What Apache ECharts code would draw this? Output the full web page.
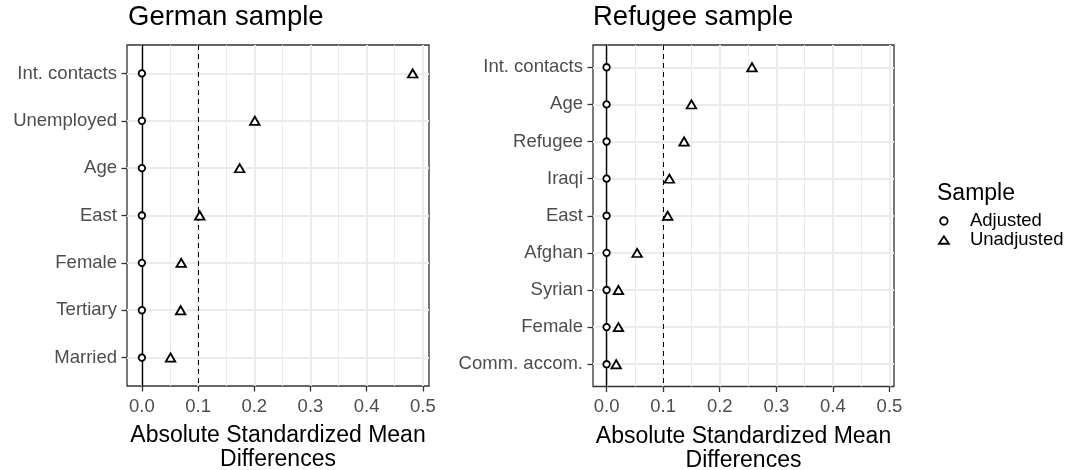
<!DOCTYPE html>
<html>
<head>
<meta charset="utf-8">
<script src="https://cdn.jsdelivr.net/npm/echarts@6/dist/echarts.min.js"></script>
<style>
  html, body { margin: 0; padding: 0; background: #ffffff; }
  #chart { width: 1067px; height: 470px; }
</style>
</head>
<body>
<div id="chart"></div>
<script>
// Covariates, listed top to bottom
const germanVars = ['Int. contacts', 'Unemployed', 'Age', 'East', 'Female', 'Tertiary', 'Married'];
const germanAdjusted = [0, 0, 0, 0, 0, 0, 0];
const germanUnadjusted = [0.482, 0.201, 0.174, 0.103, 0.070, 0.069, 0.051];

const refugeeVars = ['Int. contacts', 'Age', 'Refugee', 'Iraqi', 'East', 'Afghan', 'Syrian', 'Female', 'Comm. accom.'];
const refugeeAdjusted = [0, 0, 0, 0, 0, 0, 0, 0, 0];
const refugeeUnadjusted = [0.257, 0.150, 0.137, 0.111, 0.108, 0.054, 0.021, 0.021, 0.017];

// Axis ticks and reference lines
const xTicks = [0, 0.1, 0.2, 0.3, 0.4, 0.5];
const xMinorTicks = [0.05, 0.15, 0.25, 0.35, 0.45];
const threshold = 0.1;

const FONT = "'Liberation Sans', Arial, Helvetica, sans-serif";
const GRID_GREY = '#EBEBEB';
const pointStyle = { color: '#ffffff', borderColor: '#000000', borderWidth: 1.8, opacity: 1 };

const grids = [
  { left: 127, top: 45, width: 302, height: 341 },
  { left: 593, top: 45, width: 301, height: 341.5 }
];
const xRanges = [[-0.0265, 0.511], [-0.024, 0.508]];
const panels = [
  { vars: germanVars, adj: germanAdjusted, unadj: germanUnadjusted },
  { vars: refugeeVars, adj: refugeeAdjusted, unadj: refugeeUnadjusted }
];

const xAxes = [], yAxes = [], series = [];

panels.forEach((p, k) => {
  const idx = p.vars.map((_, i) => i);
  xAxes.push({
    gridIndex: k,
    type: 'value',
    position: 'bottom',
    min: xRanges[k][0],
    max: xRanges[k][1],
    name: 'Absolute Standardized Mean\nDifferences',
    nameLocation: 'middle',
    nameGap: 38,
    nameMoveOverlap: false,
    nameTextStyle: { fontSize: 23, lineHeight: 24, color: '#000000', fontFamily: FONT },
    axisLine: { show: false, onZero: false },
    axisTick: { show: true, length: 5.5, customValues: xTicks, lineStyle: { color: '#333333', width: 1.3 } },
    axisLabel: {
      show: true, margin: 11, customValues: xTicks, hideOverlap: false,
      color: '#4D4D4D', fontSize: 18.5, fontFamily: FONT,
      formatter: v => Number(v).toFixed(1)
    },
    splitLine: { show: true, lineStyle: { color: GRID_GREY, width: 2 } }
  });
  yAxes.push({
    gridIndex: k,
    type: 'value',
    position: 'left',
    inverse: true,
    min: -0.6,
    max: p.vars.length - 1 + 0.6,
    axisLine: { show: false, onZero: false },
    axisTick: { show: true, length: 5.5, customValues: idx, lineStyle: { color: '#333333', width: 1.3 } },
    axisLabel: {
      show: true, margin: 10, customValues: idx, hideOverlap: false,
      color: '#4D4D4D', fontSize: 18.5, fontFamily: FONT,
      formatter: v => p.vars[Math.round(v)]
    },
    splitLine: { show: true, lineStyle: { color: GRID_GREY, width: 2 } }
  });

  // minor vertical gridlines
  series.push({
    name: 'minor-grid-' + k,
    type: 'scatter', xAxisIndex: k, yAxisIndex: k, data: [], z: 1, silent: true,
    markLine: {
      silent: true, symbol: ['none', 'none'], label: { show: false }, animation: false,
      lineStyle: { type: 'solid', color: GRID_GREY, width: 1 },
      emphasis: { disabled: true },
      data: xMinorTicks.map(v => ({ xAxis: v }))
    }
  });
  // zero line and threshold line
  series.push({
    name: 'ref-lines-' + k,
    type: 'scatter', xAxisIndex: k, yAxisIndex: k, data: [], z: 2, silent: true,
    markLine: {
      silent: true, symbol: ['none', 'none'], label: { show: false }, animation: false,
      emphasis: { disabled: true },
      data: [
        { xAxis: 0, lineStyle: { type: 'solid', color: '#000000', width: 1.4 } },
        { xAxis: threshold, lineStyle: { type: [5, 4], color: '#000000', width: 1 } }
      ]
    }
  });
  series.push({
    name: 'Adjusted',
    type: 'scatter', xAxisIndex: k, yAxisIndex: k, z: 5,
    symbol: 'circle', symbolSize: 6.5,
    itemStyle: pointStyle,
    data: p.adj.map((v, i) => [v, i])
  });
  series.push({
    name: 'Unadjusted',
    type: 'scatter', xAxisIndex: k, yAxisIndex: k, z: 5,
    symbol: 'triangle', symbolSize: [9.5, 8.2],
    itemStyle: pointStyle,
    data: p.unadj.map((v, i) => [v, i])
  });
});

const titleStyle = (size) => ({ fontSize: size, lineHeight: Math.round(size + 0.5), fontWeight: 'normal', color: '#000000', fontFamily: FONT });

const option = {
  animation: false,
  backgroundColor: '#ffffff',
  title: [
    { text: 'German sample', left: 128, top: 3, padding: 0, textStyle: titleStyle(27.5) },
    { text: 'Refugee sample', left: 593, top: 3, padding: 0, textStyle: titleStyle(27.5) },
    { text: 'Sample', left: 937, top: 182, padding: 0, textStyle: titleStyle(23) }
  ],
  legend: {
    orient: 'vertical',
    left: 938, top: 211.5,
    padding: 0,
    itemWidth: 10, itemHeight: 7.5, itemGap: 0,
    selectedMode: false,
    textStyle: { fontSize: 18.5, lineHeight: 19, color: '#000000', fontFamily: FONT, padding: [0, 0, 0, 16] },
    data: [
      { name: 'Adjusted', icon: 'circle', itemStyle: { color: '#ffffff', borderColor: '#000000', borderWidth: 1.8 } },
      { name: 'Unadjusted', icon: 'triangle', itemStyle: { color: '#ffffff', borderColor: '#000000', borderWidth: 1.8 } }
    ]
  },
  grid: grids.map(g => Object.assign({
    show: true, borderColor: '#333333', borderWidth: 1.3, backgroundColor: 'transparent',
    containLabel: false, outerBoundsMode: 'none'
  }, g)),
  xAxis: xAxes,
  yAxis: yAxes,
  series: series
};

const chart = echarts.init(document.getElementById('chart'), null, { renderer: 'canvas' });
chart.setOption(option);
</script>
</body>
</html>
